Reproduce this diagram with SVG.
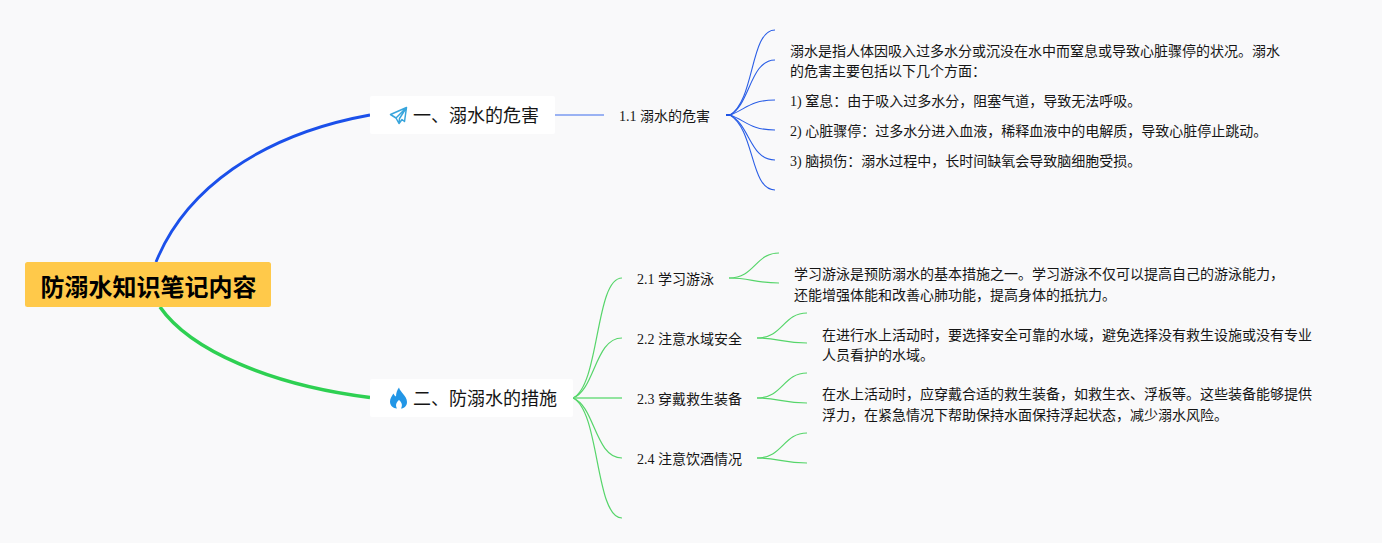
<svg xmlns="http://www.w3.org/2000/svg" width="1382" height="543" viewBox="0 0 1382 543">
<style>
text{font-family:"Liberation Serif","Noto Sans CJK SC",serif;fill:#151515;font-size:14px}
.h{font-size:18px}
.r{font-size:24px;font-weight:700;fill:#000;font-family:"Noto Sans CJK SC","Liberation Sans",sans-serif}
.b{fill:none;stroke:#2a5ee6;stroke-width:1.1}
.g{fill:none;stroke:#56d56a;stroke-width:1.2}
.box{fill:#fff}
</style>
<rect width="1382" height="543" fill="#f9f9fa"/>
<g id="connectors">
<path d="M156 262C185 190 260 135 370 115" fill="none" stroke="#1b50ea" stroke-width="2.8"/>
<path d="M160 307C190 350 270 385 370 397.5" fill="none" stroke="#2ed052" stroke-width="3.5"/>
<path d="M555 115H604" fill="none" stroke="#7a9af0" stroke-width="1.6"/>
<path d="M726 115H732" fill="none" stroke="#1f55e6" stroke-width="2"/>
<path class="b" d="M730 115C755 100 750 30 775 30"/>
<path class="b" d="M730 115C750 105 750 60 775 60"/>
<path class="b" d="M730 115C745 110 750 100 775 100"/>
<path class="b" d="M730 115C745 120 750 130 775 130"/>
<path class="b" d="M730 115C750 125 750 160 775 160"/>
<path class="b" d="M730 115C755 130 750 190 775 190"/>
<path class="g" d="M573 398C600 385 595 278 622 278"/>
<path class="g" d="M573 398C595 390 595 338 622 338"/>
<path class="g" d="M573 398H622" style="stroke-width:1.7;stroke:#6fdc80"/>
<path class="g" d="M573 398C595 406 595 458 622 458"/>
<path class="g" d="M573 398C600 411 595 518 622 518"/>
<path class="g" d="M729 278C755 278 755 253 779 253"/>
<path class="g" d="M729 278C750 278 755 283 779 283"/>
<path class="g" d="M757 338C783 338 783 313 807 313"/>
<path class="g" d="M757 338C778 338 783 343 807 343"/>
<path class="g" d="M757 398C783 398 783 373 807 373"/>
<path class="g" d="M757 398C778 398 783 403 807 403"/>
<path class="g" d="M757 458C783 458 783 433 807 433"/>
<path class="g" d="M757 458C778 458 783 463 807 463"/>
</g>
<g id="root"><rect x="25" y="262" width="246" height="45" rx="2.5" fill="#ffc94a"/><text class="r" x="40.5" y="295.5">防溺水知识笔记内容</text></g>
<g id="b1"><rect class="box" x="370" y="96" width="185" height="38" rx="2"/>
<path d="M406.500 107.500L390.500 114.500L396 118L399 123.500L402 119.500L404.500 121.500ZM396 118L406.500 107.500L399.500 118.500L399 123.500" fill="none" stroke="#38a5dc" stroke-width="1.5" stroke-linejoin="round"/>
<text class="h" x="413" y="122">一、溺水的危害</text></g>
<g id="b2"><rect class="box" x="370" y="379" width="203" height="38" rx="2"/>
<path d="M399 387.500C400 392 407 396 407 402C407 406 404 408.500 401 408.500C403 405 401.500 402 399 400C396.500 402 395 405 397 408.500C393 408.500 390 405.500 390 401.500C390 398 392 396 393.500 393.500C394 395 395 396 396 396.500C396 393 397 390 399 387.500Z" fill="#2296e6"/>
<text class="h" x="413" y="405">二、防溺水的措施</text></g>
<g id="n11"><text x="619" y="121">1.1 溺水的危害</text></g>
<g id="d1"><text x="790" y="56">溺水是指人体因吸入过多水分或沉没在水中而窒息或导致心脏骤停的状况。溺水</text><text x="790" y="76">的危害主要包括以下几个方面：</text>
<text x="790" y="106">1) 窒息：由于吸入过多水分，阻塞气道，导致无法呼吸。</text>
<text x="790" y="136">2) 心脏骤停：过多水分进入血液，稀释血液中的电解质，导致心脏停止跳动。</text>
<text x="790" y="166">3) 脑损伤：溺水过程中，长时间缺氧会导致脑细胞受损。</text></g>
<g id="n21"><text x="637" y="284">2.1 学习游泳</text></g>
<g id="n22"><text x="637" y="344">2.2 注意水域安全</text></g>
<g id="n23"><text x="637" y="404">2.3 穿戴救生装备</text></g>
<g id="n24"><text x="637" y="464">2.4 注意饮酒情况</text></g>
<g id="d21"><text x="794" y="279">学习游泳是预防溺水的基本措施之一。学习游泳不仅可以提高自己的游泳能力，</text><text x="794" y="300">还能增强体能和改善心肺功能，提高身体的抵抗力。</text></g>
<g id="d22"><text x="822" y="340">在进行水上活动时，要选择安全可靠的水域，避免选择没有救生设施或没有专业</text><text x="822" y="360">人员看护的水域。</text></g>
<g id="d23"><text x="822" y="399">在水上活动时，应穿戴合适的救生装备，如救生衣、浮板等。这些装备能够提供</text><text x="822" y="420">浮力，在紧急情况下帮助保持水面保持浮起状态，减少溺水风险。</text></g>
</svg>
